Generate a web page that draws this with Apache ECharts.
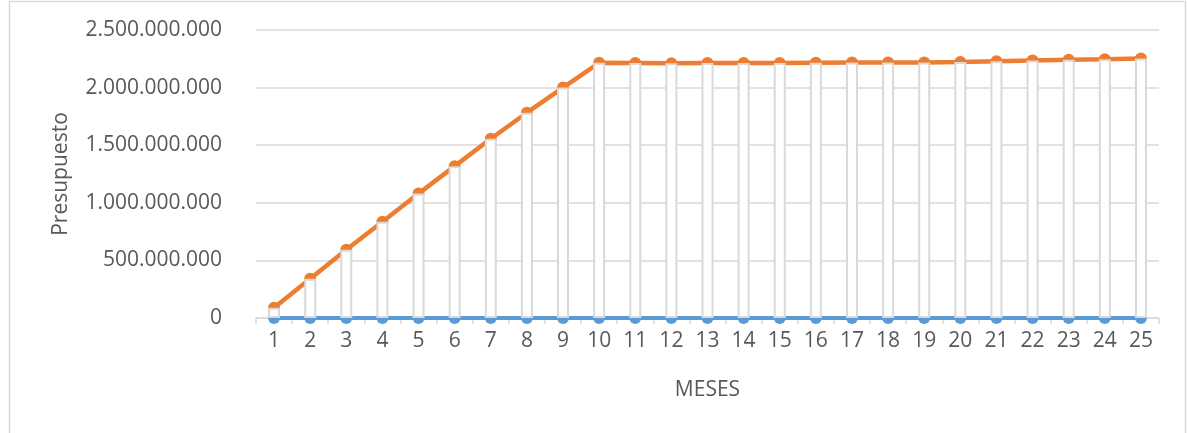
<!DOCTYPE html>
<html>
<head>
<meta charset="utf-8">
<script src="https://cdn.jsdelivr.net/npm/echarts@6/dist/echarts.min.js"></script>
<style>
  html, body { margin: 0; padding: 0; background: #fff; }
  #chart { width: 1187px; height: 433px; }
</style>
</head>
<body>
<div id="chart"></div>
<script>
// meses
const meses = ['1', '2', '3', '4', '5', '6', '7', '8', '9', '10', '11', '12', '13',
  '14', '15', '16', '17', '18', '19', '20', '21', '22', '23', '24', '25']
// serie azul (todo en cero)
const serieAzul = [0, 0, 0, 0, 0, 0, 0, 0, 0, 0, 0, 0, 0, 0, 0, 0, 0, 0, 0, 0, 0, 0, 0, 0, 0]
// serie naranja, presupuesto acumulado
const serieNaranja = [
  88000000, 341000000, 592000000, 836000000, 1080000000, 1318000000, 1556000000,
  1782000000, 2000000000, 2215000000, 2214000000, 2212000000, 2213000000, 2214000000,
  2213000000, 2215000000, 2217000000, 2217000000, 2218000000, 2223000000, 2229000000,
  2235000000, 2241000000, 2246000000, 2252000000,
]

// barras entre las dos series (base transparente + diferencia)
const diferencia = serieNaranja.map((v, i) => v - serieAzul[i])

function puntos(v) {
  return String(v).replace(/\B(?=(\d{3})+(?!\d))/g, '.')
}

const textColor = '#595959'
const gridColor = '#d9d9d9'
const fuente = 'Open Sans'

const myChart = echarts.init(document.getElementById('chart'))
myChart.setOption({
  animation: false,
  textStyle: { fontFamily: fuente },
  graphic: [
    {
      type: 'rect',
      shape: { x: 9.5, y: 1.5, width: 1176, height: 440 },
      style: { fill: 'none', stroke: gridColor, lineWidth: 1.5 },
      silent: true,
    },
  ],
  grid: { left: 256, right: 28, top: 30, bottom: 115 },
  xAxis: {
    type: 'category',
    data: meses,
    boundaryGap: true,
    name: 'MESES',
    nameLocation: 'middle',
    nameGap: 62,
    nameTextStyle: { color: textColor, fontSize: 21, fontFamily: fuente },
    axisLine: { lineStyle: { color: gridColor, width: 1.5 } },
    axisTick: { show: true, length: 6, lineStyle: { color: gridColor, width: 1.5 } },
    axisLabel: { color: textColor, fontSize: 21, margin: 13, fontFamily: fuente },
  },
  yAxis: {
    type: 'value',
    min: 0,
    max: 2500000000,
    interval: 500000000,
    name: 'Presupuesto',
    nameLocation: 'middle',
    nameGap: 184,
    nameTextStyle: { color: textColor, fontSize: 21, fontFamily: fuente },
    axisLine: { show: false },
    axisTick: { show: false },
    splitLine: { lineStyle: { color: gridColor, width: 1.5 } },
    axisLabel: {
      color: textColor,
      fontSize: 21,
      margin: 34,
      fontFamily: fuente,
      formatter: v => puntos(v),
    },
  },
  series: [
    {
      name: 'azul',
      type: 'line',
      data: serieAzul,
      symbol: 'circle',
      symbolSize: 12,
      z: 2,
      lineStyle: { color: '#5B9BD5', width: 4 },
      itemStyle: { color: '#5B9BD5' },
    },
    {
      name: 'naranja',
      type: 'line',
      data: serieNaranja,
      symbol: 'circle',
      symbolSize: 12,
      z: 2,
      lineStyle: { color: '#ED7D31', width: 4.5 },
      itemStyle: { color: '#ED7D31' },
    },
    {
      name: 'base',
      type: 'bar',
      stack: 'updown',
      data: serieAzul,
      barWidth: 12,
      z: 5,
      itemStyle: { color: 'transparent' },
      silent: true,
    },
    {
      name: 'barras',
      type: 'bar',
      stack: 'updown',
      data: diferencia,
      barWidth: 12,
      z: 5,
      itemStyle: { color: '#ffffff', borderColor: gridColor, borderWidth: 2 },
      silent: true,
    },
  ],
})
</script>
</body>
</html>
